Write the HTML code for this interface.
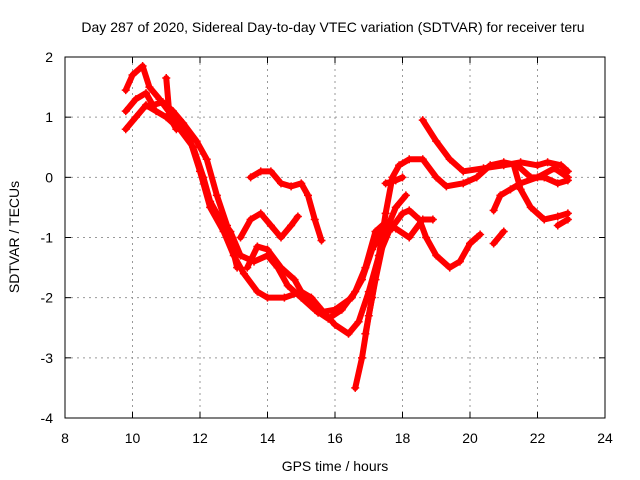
<!DOCTYPE html>
<html><head><meta charset="utf-8"><style>
body{margin:0;background:#fff;}
svg{display:block;font-family:"Liberation Sans",sans-serif;}
</style></head><body>
<svg id="chart" width="640" height="480" viewBox="0 0 640 480">
<rect width="640" height="480" fill="#fff"/>
<text x="333" y="32" font-size="14" text-anchor="middle">Day 287 of 2020, Sidereal Day-to-day VTEC variation (SDTVAR) for receiver teru</text>
<g id="grid"></g>
<g id="series"></g>
<rect x="65" y="57" width="540" height="361" fill="none" stroke="#000" stroke-width="1"/>
<g id="ticks"></g>
<text x="335" y="471" font-size="14" text-anchor="middle">GPS time / hours</text>
<text transform="translate(19,237) rotate(-90)" font-size="14" text-anchor="middle">SDTVAR / TECUs</text>
</svg>
<script>
const xTicks=[8,10,12,14,16,18,20,22,24];
const yTicks=[2,1,0,-1,-2,-3,-4];
const t1=[[9.8,1.45],[10.0,1.7],[10.3,1.85],[10.5,1.5],[10.8,1.3],[11.2,1.0],[11.6,0.8],[12.0,0.1],[12.3,-0.5],[12.7,-0.9],[13.0,-1.3],[13.3,-1.6],[13.7,-1.9],[14.0,-2.0],[14.5,-2.0],[15.0,-1.9],[15.3,-2.0],[15.6,-2.2],[16.0,-2.45],[16.4,-2.6],[16.7,-2.4],[17.0,-1.9],[17.3,-1.3],[17.6,-0.9],[18.0,-0.6],[18.2,-0.55],[18.5,-0.7],[18.7,-1.0],[19.0,-1.3],[19.4,-1.5],[19.7,-1.4],[20.0,-1.1],[20.2,-1.0]];
const t2=[[9.8,0.8],[10.1,1.0],[10.4,1.2],[10.7,1.1],[11.0,1.0],[11.4,0.8],[11.8,0.5],[12.1,0.0],[12.3,-0.4],[12.5,-0.6],[12.9,-0.9],[13.2,-1.3],[13.6,-1.4],[14.0,-1.3],[14.3,-1.5],[14.6,-1.8],[15.0,-2.0],[15.4,-2.2],[15.8,-2.35],[16.2,-2.2],[16.6,-1.9],[16.9,-1.5],[17.2,-0.9],[17.5,-0.75],[17.8,-0.85],[18.2,-1.0],[18.6,-0.7],[18.9,-0.7]];
const t3=[[16.6,-3.5],[16.8,-3.0],[17.0,-2.3],[17.2,-1.7],[17.5,-0.9],[17.8,-0.5],[18.1,-0.3]];
const t4=[[16.9,-2.6],[17.1,-2.0],[17.3,-1.3],[17.5,-0.6],[17.7,0.0],[17.9,0.2],[18.2,0.3],[18.6,0.3],[19.0,0.0],[19.3,-0.15],[19.8,-0.1],[20.2,0.0],[20.6,0.2],[21.0,0.25],[21.4,0.2],[21.8,0.0],[22.2,0.0],[22.6,-0.1],[22.9,-0.05]];
const t5=[[18.6,0.95],[19.0,0.6],[19.4,0.3],[19.8,0.1],[20.4,0.15],[21.0,0.2],[21.5,0.25],[22.0,0.2],[22.3,0.25],[22.7,0.2],[22.9,0.1]];
const t6=[[21.3,0.2],[21.5,-0.2],[21.8,-0.5],[22.2,-0.7],[22.6,-0.65],[22.9,-0.6]];
const t7=[[17.5,-0.1],[17.8,-0.05],[18.0,0.0]];
const t8=[[20.7,-0.55],[20.9,-0.3],[21.2,-0.2],[21.5,-0.1],[22.0,0.0],[22.5,0.15],[22.9,0.0]];
const t9=[[13.5,0.0],[13.8,0.1],[14.1,0.1],[14.4,-0.1],[14.7,-0.15],[15.0,-0.1],[15.2,-0.3],[15.4,-0.7],[15.6,-1.05]];
const t10=[[13.2,-1.0],[13.5,-0.7],[13.8,-0.6],[14.1,-0.8],[14.4,-1.0],[14.7,-0.8],[14.9,-0.65]];
const t11=[[13.4,-1.5],[13.7,-1.15],[14.0,-1.2],[14.4,-1.5],[14.8,-1.7],[15.1,-2.0],[15.5,-2.25],[16.0,-2.2],[16.5,-2.0],[16.8,-1.7],[17.1,-1.2],[17.4,-0.9],[17.7,-0.85]];
const t12=[[9.8,1.1],[10.1,1.3],[10.4,1.4],[10.6,1.2],[10.9,1.25],[11.2,1.1],[11.5,0.9],[11.9,0.6],[12.2,0.3],[12.5,-0.3],[12.8,-0.8],[13.1,-1.5]];
const t13=[[20.0,-1.1],[20.3,-0.95]];
const t14=[[20.7,-1.1],[21.0,-0.9]];
const t15=[[22.6,-0.8],[22.9,-0.7]];
const t16=[[11.0,1.65],[11.1,1.0],[11.3,0.8]];
const allSeries=[t1,t2,t3,t4,t5,t6,t7,t8,t9,t10,t11,t12,t13,t14,t15,t16];

const X0=65,X1=605,Y0=57,Y1=418;
function xs(v){return X0+(v-8)/16*(X1-X0);}
function ys(v){return Y0+(2-v)/6*(Y1-Y0);}
const NS="http://www.w3.org/2000/svg";
const grid=document.getElementById('grid'),ticks=document.getElementById('ticks'),ser=document.getElementById('series');
function mk(tag,attrs,parent){const e=document.createElementNS(NS,tag);for(const k in attrs)e.setAttribute(k,attrs[k]);parent.appendChild(e);return e;}
xTicks.forEach(t=>{
  const x=xs(t);
  if(t>8&&t<24){const g=mk('line',{x1:x,x2:x,y1:Y0,y2:Y1,stroke:'#999','stroke-dasharray':'2,4'},grid);
  
  }
  mk('line',{x1:x,x2:x,y1:Y1,y2:Y1-6,stroke:'#000'},ticks);
  mk('line',{x1:x,x2:x,y1:Y0,y2:Y0+6,stroke:'#000'},ticks);
  const l=mk('text',{x:x,y:443,'font-size':14,'text-anchor':'middle'},ticks);l.textContent=t;
  
  
});
yTicks.forEach(t=>{
  const y=ys(t);
  if(t<2&&t>-4){const g=mk('line',{x1:X0,x2:X1,y1:y,y2:y,stroke:'#999','stroke-dasharray':'2,4'},grid);
  
  }
  mk('line',{x1:X0,x2:X0+6,y1:y,y2:y,stroke:'#000'},ticks);
  mk('line',{x1:X1,x2:X1-6,y1:y,y2:y,stroke:'#000'},ticks);
  const l=mk('text',{x:53,y:y+5,'font-size':14,'text-anchor':'end'},ticks);l.textContent=t;
  
  
});
allSeries.forEach((s,i)=>{
  const p=mk('polyline',{points:s.map(d=>xs(d[0])+','+ys(d[1])).join(' '),fill:'none',stroke:'#f00','stroke-width':6,'stroke-linejoin':'round','stroke-linecap':'round'},ser);
  
  
  s.forEach(d=>{
    const x=xs(d[0]),y=ys(d[1]);
    const m=mk('path',{d:`M${x-4},${y}H${x+4}M${x},${y-4}V${y+4}`,stroke:'#f00','stroke-width':1.5},ser);
    
    
  });
});
</script>
</body></html>
